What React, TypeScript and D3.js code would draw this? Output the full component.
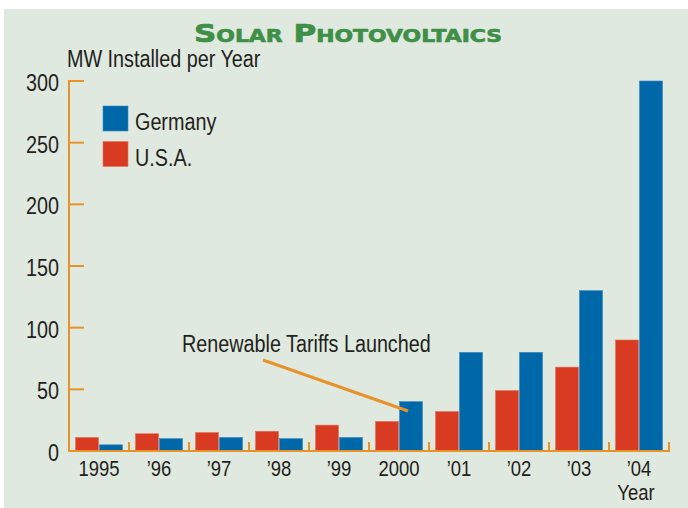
import * as React from 'react';
import * as d3 from 'd3';

const years = ['1995', '’96', '’97', '’98', '’99', '2000', '’01', '’02', '’03', '’04'];
const usa = [11, 14, 15, 16, 21, 24, 32, 49, 68, 90];
const germany = [5, 10, 11, 10, 11, 40, 80, 80, 130, 300];
const yTicks = [0, 50, 100, 150, 200, 250, 300];
const series = ['U.S.A.', 'Germany'];

const W = 688;
const H = 508;
const FONT = '"Liberation Sans", Arial, sans-serif';
const ORANGE = '#e8922a';
const RED = '#d93a22';
const BLUE = '#0067a8';
const INK = '#231f20';

// Liberation Sans squeezed horizontally, to get close to the condensed face of the original
function NText({ x, y, anchor = 'start', size = 23, children }) {
  return (
    <text transform={`translate(${x},${y}) scale(0.86,1)`} textAnchor={anchor} fill={INK}
      fontFamily={FONT} fontSize={size}>{children}</text>
  );
}

export default function App() {
  const x = d3.scaleBand().domain(years).range([69, 669]).padding(0);
  const inner = d3.scaleBand().domain(series).range([6.5, 53.5]).paddingInner(0.04);
  const y = d3.scaleLinear().domain([0, 300]).range([451, 81]);

  const colors = { 'U.S.A.': RED, Germany: BLUE };
  const edges = { 'U.S.A.': '#e8705a', Germany: '#3a86c0' };
  const values = { 'U.S.A.': usa, Germany: germany };

  return (
    <svg width={W} height={H} style={{ position: 'absolute', left: 0, top: 0 }}>
      <rect x={4} y={9} width={W - 4} height={H - 9} fill="#e0e9df" />

      <text x={348} y={42} textAnchor="middle" fill="#3f8f47" stroke="#3f8f47" strokeWidth={0.7}
        fontFamily='"DejaVu Sans", sans-serif' fontWeight="bold" fontSize={25.5}
        style={{ fontVariant: 'small-caps' }} textLength={308} lengthAdjust="spacingAndGlyphs">
        Solar Photovoltaics
      </text>

      <NText x={67} y={67}>MW Installed per Year</NText>

      {/* bars */}
      {years.map((yr, i) => (
        <g key={yr} transform={`translate(${x(yr)},0)`}>
          {series.map(s => {
            const v = values[s][i];
            return (
              <rect key={s} x={inner(s)} y={y(v)} width={inner.bandwidth()} height={y(0) - y(v)}
                fill={colors[s]} stroke={edges[s]} strokeWidth={0.6} />
            );
          })}
        </g>
      ))}

      {/* y axis */}
      <line x1={69} x2={69} y1={y(300) - 1} y2={y(0)} stroke={ORANGE} strokeWidth={2} />
      {yTicks.filter(t => t > 0).map(t => (
        <line key={t} x1={69} x2={84} y1={y(t)} y2={y(t)} stroke={ORANGE} strokeWidth={2} />
      ))}
      {yTicks.map(t => (
        <NText key={t} x={59} y={y(t) + 10} anchor="end">{t}</NText>
      ))}

      {/* x axis */}
      <line x1={68} x2={670} y1={y(0)} y2={y(0)} stroke={ORANGE} strokeWidth={2} />
      {years.map(yr => (
        <line key={yr} x1={x(yr) + x.bandwidth()} x2={x(yr) + x.bandwidth()} y1={y(0)} y2={y(0) - 9}
          stroke={ORANGE} strokeWidth={2} />
      ))}
      {years.map(yr => (
        <NText key={yr} x={x(yr) + x.bandwidth() / 2} y={476} anchor="middle" size={21.5}>{yr}</NText>
      ))}
      <NText x={x('’04') + x.bandwidth() / 2 - 3} y={500} anchor="middle" size={21.5}>Year</NText>

      {/* legend */}
      {['Germany', 'U.S.A.'].map((s, i) => (
        <g key={s} transform={`translate(103,${106 + i * 35.5})`}>
          <rect width={25} height={25} fill={colors[s]} stroke={edges[s]} strokeWidth={0.6} />
          <NText x={32} y={24}>{s}</NText>
        </g>
      ))}

      {/* annotation */}
      <NText x={182} y={352}>Renewable Tariffs Launched</NText>
      <line x1={263} y1={360} x2={x('2000') + inner('Germany') + inner.bandwidth() / 2 - 3} y2={411}
        stroke={ORANGE} strokeWidth={3} />
    </svg>
  );
}
